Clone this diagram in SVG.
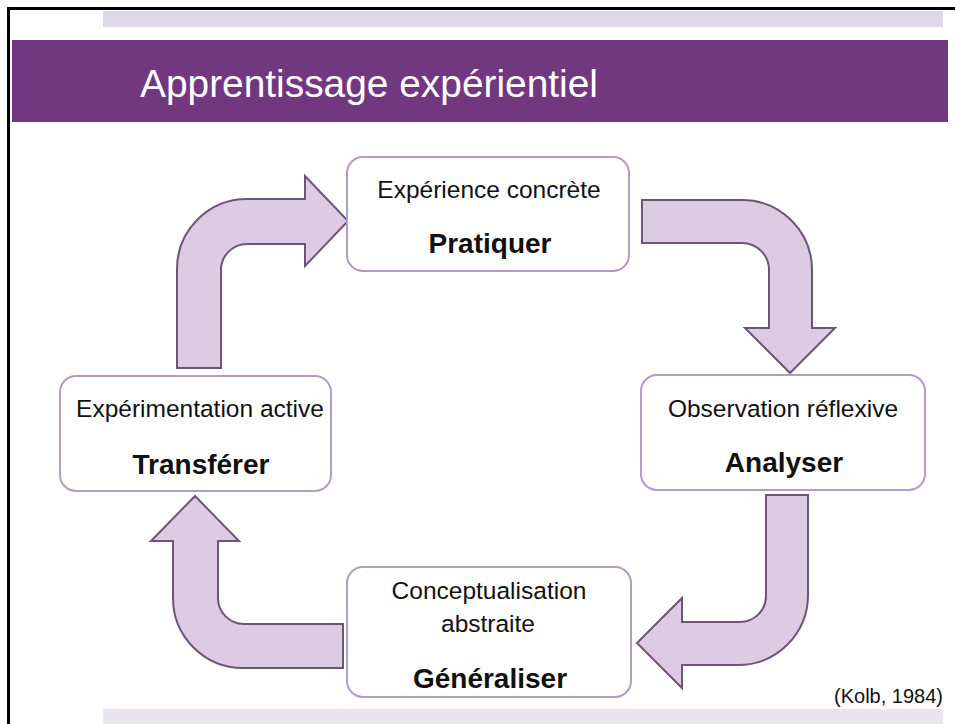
<svg xmlns="http://www.w3.org/2000/svg" width="955" height="724" viewBox="0 0 955 724">
<defs>
<style>
.box{fill:#ffffff;stroke:#b49bc4;stroke-width:2}
.arrow{fill:#dccbe3;stroke:#6f5479;stroke-width:2;stroke-linejoin:miter}
.t{font-family:"Liberation Sans",Arial,sans-serif;fill:#111111;text-anchor:middle}
.sub{font-size:24.5px}
.main{font-size:28px;font-weight:bold}
</style>
</defs>
<rect x="0" y="0" width="955" height="724" fill="#ffffff"/>
<g id="frame">
<rect x="7" y="7" width="948" height="3" fill="#000000"/>
<rect x="7" y="7" width="3" height="717" fill="#000000"/>
<rect x="103" y="11" width="840" height="16" fill="#dfd8e7"/>
<rect x="12" y="40" width="936" height="82" fill="#71387f"/>
<text x="140" y="97" font-family="'Liberation Sans',Arial,sans-serif" font-size="38" fill="#ffffff" textLength="458" lengthAdjust="spacingAndGlyphs">Apprentissage expérientiel</text>
<rect x="103" y="709" width="840" height="15" fill="#e9e4ee"/>
</g>
<g id="connectors">
<path class="arrow" d="M177,368 L177,269 A70,70 0 0 1 247,199 L305,199 L305,176 L348,221 L305,266 L305,244 L247,244 A26,26 0 0 0 221,270 L221,368 Z"/>
<path class="arrow" d="M642,200 L742,200 A70,70 0 0 1 812,270 L812,328 L835,328 L790,373 L745,328 L769,328 L769,270 A27,27 0 0 0 742,243 L642,243 Z"/>
<path class="arrow" d="M766,495 L766,596 A26,26 0 0 1 740,622 L682,622 L682,598 L637,643 L682,688 L682,665 L738,665 A70,70 0 0 0 808,595 L808,495 Z"/>
<path class="arrow" d="M343,624 L244,624 A26,26 0 0 1 218,598 L218,541 L239,541 L195,496 L151,541 L173,541 L173,598 A70,70 0 0 0 243,668 L343,668 Z"/>
</g>
<g id="node-pratiquer">
<rect class="box" x="347" y="157" width="282" height="114" rx="16"/>
<text class="t sub" x="489" y="198">Expérience concrète</text>
<text class="t main" x="490" y="253">Pratiquer</text>
</g>
<g id="node-analyser">
<rect class="box" x="641" y="375" width="284" height="115" rx="16"/>
<text class="t sub" x="783" y="417">Observation réflexive</text>
<text class="t main" x="784" y="472">Analyser</text>
</g>
<g id="node-transferer">
<rect class="box" x="60" y="376" width="271" height="115" rx="16"/>
<text class="t sub" x="200" y="417">Expérimentation active</text>
<text class="t main" x="201" y="474">Transférer</text>
</g>
<g id="node-generaliser">
<rect class="box" x="347" y="567" width="284" height="130" rx="16"/>
<text class="t sub" x="489" y="599">Conceptualisation</text>
<text class="t sub" x="488" y="632">abstraite</text>
<text class="t main" x="490" y="688">Généraliser</text>
</g>
<text id="citation" x="943" y="703" font-family="'Liberation Sans',Arial,sans-serif" font-size="20" fill="#111111" text-anchor="end">(Kolb, 1984)</text>
</svg>
